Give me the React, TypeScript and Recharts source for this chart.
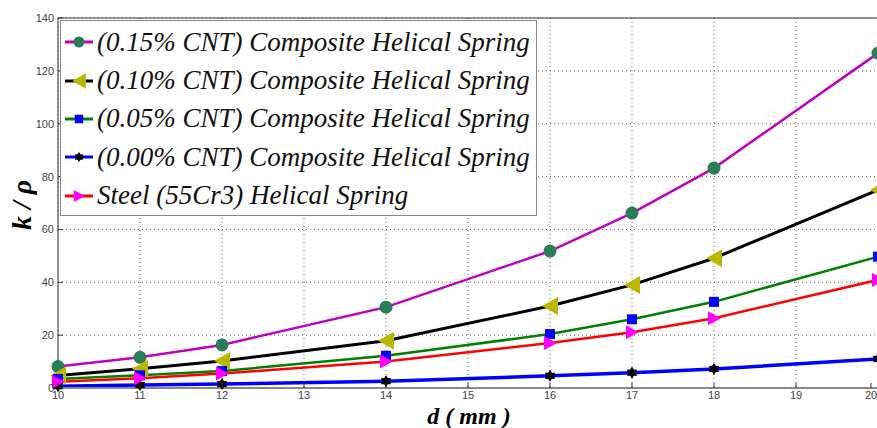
import React from "react";
import {
  LineChart,
  Line,
  XAxis,
  YAxis,
  CartesianGrid,
  ReferenceLine,
  Legend,
} from "recharts";

// wire diameter d (mm)
const diameters = [10, 11, 12, 14, 16, 17, 18, 20];

// k / rho for each spring
const cnt015 = [8.1, 11.6, 16.3, 30.6, 51.8, 66.2, 83.2, 126.7];
const cnt010 = [4.7, 7.3, 10.2, 17.9, 31, 39, 49.1, 74.9];
const cnt005 = [3.4, 4.8, 6.4, 12.2, 20.4, 26, 32.6, 49.7];
const cnt000 = [0.7, 1.1, 1.5, 2.6, 4.6, 5.8, 7.2, 11];
const steel55 = [2.4, 3.7, 5.5, 10, 17, 21.1, 26.4, 40.9];

const xTicks = [10, 11, 12, 13, 14, 15, 16, 17, 18, 19, 20];
const yTicks = [0, 20, 40, 60, 80, 100, 120, 140];

const seriesNames = [
  "(0.15% CNT) Composite Helical Spring",
  "(0.10% CNT) Composite Helical Spring",
  "(0.05% CNT) Composite Helical Spring",
  "(0.00% CNT) Composite Helical Spring",
  "Steel (55Cr3) Helical Spring",
];

const data = diameters.map((d, i) => ({
  d,
  s015: cnt015[i],
  s010: cnt010[i],
  s005: cnt005[i],
  s000: cnt000[i],
  steel: steel55[i],
}));

const SERIF = "'Times New Roman', Tinos, serif";
const SANS = "Arial, 'Liberation Sans', sans-serif";

type Marker = "circle" | "triLeft" | "square" | "hexagram" | "triRight";

const series: {
  key: string;
  name: string;
  stroke: string;
  width: number;
  marker: Marker;
  fill: string;
}[] = [
  { key: "s015", name: seriesNames[0], stroke: "#bf00bf", width: 2.5, marker: "circle", fill: "#2b7d58" },
  { key: "s010", name: seriesNames[1], stroke: "#000000", width: 3, marker: "triLeft", fill: "#b8b800" },
  { key: "s005", name: seriesNames[2], stroke: "#008000", width: 2.5, marker: "square", fill: "#0000ff" },
  { key: "s000", name: seriesNames[3], stroke: "#0000ff", width: 3.5, marker: "hexagram", fill: "#000000" },
  { key: "steel", name: seriesNames[4], stroke: "#ff0000", width: 2.5, marker: "triRight", fill: "#ff00ff" },
];

function drawMarker(type: Marker, cx: number, cy: number, fill: string, s = 1) {
  if (type === "circle") return <circle cx={cx} cy={cy} r={6.5 * s} fill={fill} />;
  if (type === "square")
    return <rect x={cx - 5 * s} y={cy - 5 * s} width={10 * s} height={10 * s} fill={fill} />;
  if (type === "triLeft") {
    const p = `${cx - 8 * s},${cy} ${cx + 8 * s},${cy - 9 * s} ${cx + 8 * s},${cy + 9 * s}`;
    return <polygon points={p} fill={fill} />;
  }
  if (type === "triRight") {
    const p = `${cx + 7 * s},${cy} ${cx - 6 * s},${cy - 7 * s} ${cx - 6 * s},${cy + 7 * s}`;
    return <polygon points={p} fill={fill} />;
  }
  // six pointed star
  const pts: string[] = [];
  for (let k = 0; k < 12; k++) {
    const r = (k % 2 === 0 ? 6 : 3.6) * s;
    const a = (Math.PI / 6) * k - Math.PI / 2;
    pts.push(`${cx + r * Math.cos(a)},${cy + r * Math.sin(a)}`);
  }
  return <polygon points={pts.join(" ")} fill={fill} />;
}

const XTick = (props: any) => {
  const { x, y, payload } = props;
  return (
    <g>
      <line x1={x} x2={x} y1={388} y2={383} stroke="#333" />
      <text x={x} y={y + 9} textAnchor="middle" fontSize={11} fill="#444" style={{ fontFamily: SANS }}>
        {payload.value}
      </text>
    </g>
  );
};

const TopTick = (props: any) => {
  const { x } = props;
  return <line x1={x} x2={x} y1={18} y2={23} stroke="#333" />;
};

const YTick = (props: any) => {
  const { y, payload } = props;
  return (
    <g>
      <line x1={58} x2={63} y1={y} y2={y} stroke="#333" />
      <text x={54} y={y + 4} textAnchor="end" fontSize={11} fill="#444" style={{ fontFamily: SANS }}>
        {payload.value}
      </text>
    </g>
  );
};

const LegendBox = () => (
  <div
    style={{
      width: 477,
      height: 196,
      border: "1px solid #888",
      background: "#fff",
      boxSizing: "border-box",
      paddingTop: 2,
    }}
  >
    {series.map((s) => (
      <div key={s.key} style={{ display: "flex", alignItems: "center", height: 38.4 }}>
        <svg width={36} height={30} style={{ flex: "none" }}>
          <line x1={4} x2={32} y1={15} y2={15} stroke={s.stroke} strokeWidth={3} />
          {drawMarker(s.marker, 18, 15, s.fill, 0.85)}
        </svg>
        <span
          style={{
            fontFamily: SERIF,
            fontStyle: "italic",
            fontSize: 27,
            color: "#111",
            whiteSpace: "nowrap",
            lineHeight: 1,
          }}
        >
          {s.name}
        </span>
      </div>
    ))}
  </div>
);

export default function App() {
  return (
    <div style={{ position: "absolute", left: 0, top: 0, width: 877, height: 428, overflow: "hidden", background: "#fff" }}>
      <LineChart width={879} height={428} data={data} margin={{ top: 18, right: 1, left: 0, bottom: 0 }}>
        <CartesianGrid stroke="#666" strokeDasharray="1 3" />
        <XAxis
          dataKey="d"
          type="number"
          domain={[10, 20]}
          ticks={xTicks}
          height={40}
          tickSize={0}
          tickMargin={2}
          tickLine={false}
          tick={<XTick />}
          axisLine={{ stroke: "#888", strokeWidth: 2 }}
          label={{
            content: () => (
              <text
                x={469}
                y={424}
                textAnchor="middle"
                fontSize={24}
                fontWeight="bold"
                fontStyle="italic"
                style={{ fontFamily: SERIF }}
                fill="#000"
              >
                d ( mm )
              </text>
            ),
          }}
        />
        <XAxis
          xAxisId="top"
          orientation="top"
          type="number"
          domain={[10, 20]}
          ticks={xTicks}
          height={0}
          tickLine={false}
          axisLine={{ stroke: "#333" }}
          tick={<TopTick />}
        />
        <YAxis
          type="number"
          domain={[0, 140]}
          ticks={yTicks}
          width={58}
          tickSize={0}
          tickMargin={4}
          tickLine={false}
          tick={<YTick />}
          axisLine={{ stroke: "#333" }}
          label={{
            content: () => (
              <text
                x={0}
                y={0}
                transform="translate(31,205) rotate(-90)"
                textAnchor="middle"
                fontSize={28}
                fontWeight="bold"
                fontStyle="italic"
                style={{ fontFamily: SERIF }}
                fill="#000"
              >
                k / ρ
              </text>
            ),
          }}
        />
        <ReferenceLine y={140} stroke="#333" />
        <Legend
          layout="horizontal"
          verticalAlign="middle"
          align="center"
          wrapperStyle={{ left: 60, top: 20, width: 477, height: 196 }}
          content={() => <LegendBox />}
        />
        {series.map((s) => (
          <Line
            key={s.key}
            dataKey={s.key}
            name={s.name}
            stroke={s.stroke}
            strokeWidth={s.width}
            isAnimationActive={false}
            activeDot={false}
            dot={(p: any) => <g key={`${s.key}-${p.index}`}>{drawMarker(s.marker, p.cx, p.cy, s.fill)}</g>}
          />
        ))}
      </LineChart>
    </div>
  );
}
